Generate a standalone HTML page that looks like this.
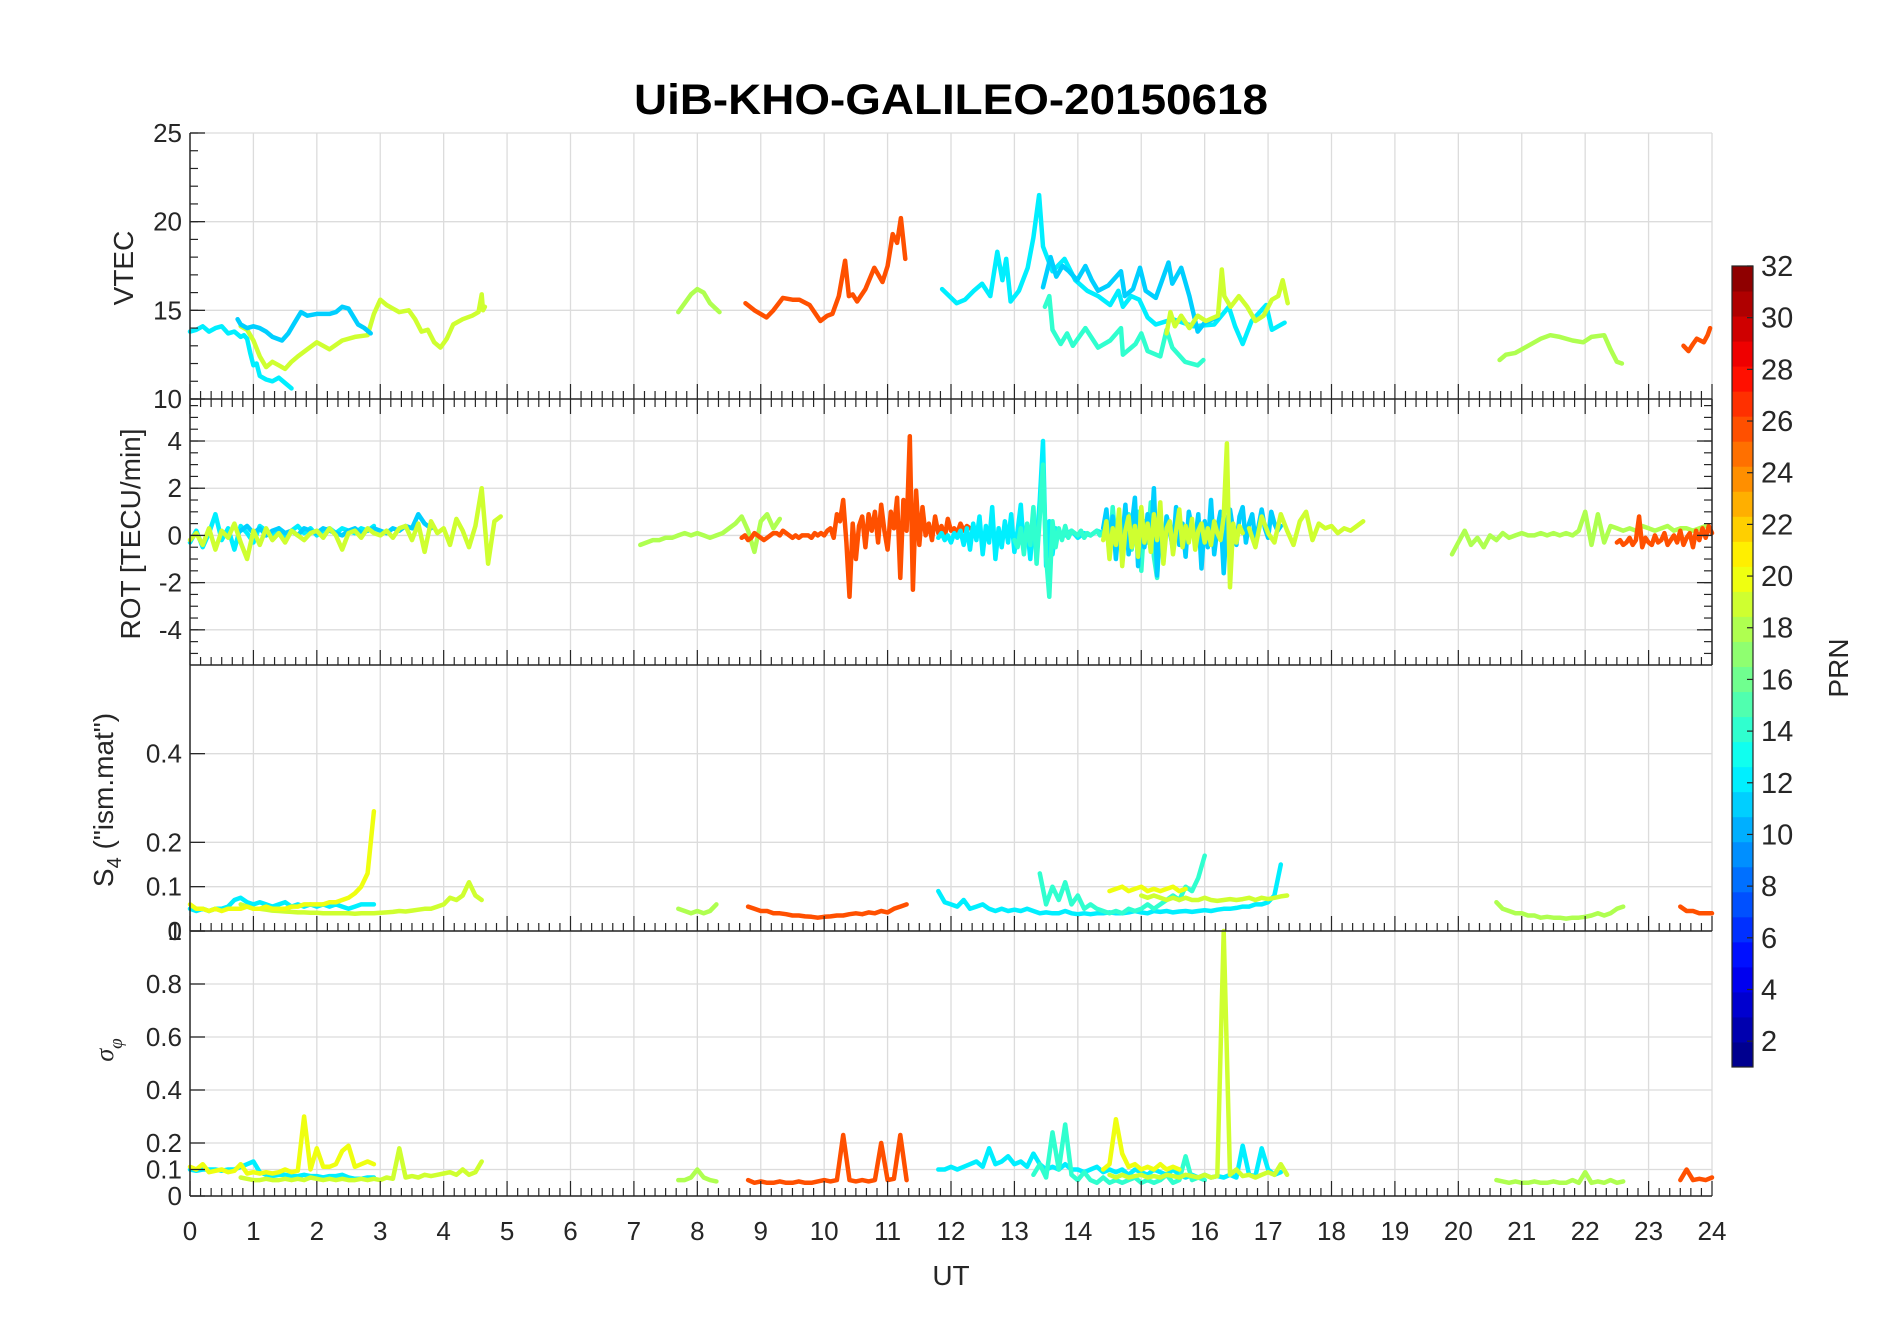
<!DOCTYPE html>
<html><head><meta charset="utf-8">
<style>
html,body{margin:0;padding:0;background:#fff;}
svg{display:block;font-family:"Liberation Sans",Arial,sans-serif;}
</style></head>
<body>
<svg id="chart" width="1902" height="1330" viewBox="0 0 1902 1330" xmlns="http://www.w3.org/2000/svg">
<rect x="0" y="0" width="1902" height="1330" fill="#fff"/>
<text x="951" y="114" text-anchor="middle" font-size="43" font-weight="bold" fill="#000" textLength="634" lengthAdjust="spacingAndGlyphs">UiB-KHO-GALILEO-20150618</text>
<g id="grid"></g>
<g id="series"></g>
<g id="axes"></g>
<g id="labels">
<text transform="translate(133,268) rotate(-90)" text-anchor="middle" font-size="28" fill="#262626">VTEC</text>
<text transform="translate(140,534) rotate(-90)" text-anchor="middle" font-size="28" fill="#262626">ROT [TECU/min]</text>
<text transform="translate(113,800) rotate(-90)" text-anchor="middle" font-size="28" fill="#262626">S<tspan font-size="20" dy="8">4</tspan><tspan dy="-8"> ("ism.mat")</tspan></text>
<text transform="translate(113,1050) rotate(-90)" text-anchor="middle" font-size="26" font-style="italic" fill="#262626" font-family="Liberation Serif, serif">σ<tspan font-size="19" dy="9">φ</tspan></text>
<text x="951" y="1285" text-anchor="middle" font-size="28" fill="#262626">UT</text>
<text transform="translate(1848,668) rotate(-90)" text-anchor="middle" font-size="28" fill="#262626">PRN</text>
</g>
<g id="colorbar"></g>
</svg>
<script>
// ---------------- DATA ----------------
const hourTicks = [0,1,2,3,4,5,6,7,8,9,10,11,12,13,14,15,16,17,18,19,20,21,22,23,24];
const vtecTicks = [10,15,20,25];
const rotTicks = [-4,-2,0,2,4];
const s4Ticks = [0,0.1,0.2,0.4];
const sigmaTicks = [0,0.1,0.2,0.4,0.6,0.8,1];
const prnTicks = [2,4,6,8,10,12,14,16,18,20,22,24,26,28,30,32];

const vtecP12aT = [0,0.1,0.2,0.3,0.4,0.5,0.6,0.7,0.8,0.85,0.9,0.95,1.0,1.05,1.1,1.2,1.3,1.4,1.5,1.6];
const vtecP12aV = [13.8,13.9,14.1,13.8,14.0,14.1,13.7,13.8,13.5,13.6,13.4,12.6,11.9,12.0,11.3,11.1,11.0,11.2,10.9,10.6];
const vtecP11aT = [0.75,0.8,0.9,1.0,1.1,1.2,1.3,1.45,1.55,1.65,1.75,1.85,2.0,2.1,2.2,2.3,2.4,2.5,2.6,2.65,2.75,2.85];
const vtecP11aV = [14.5,14.2,14.0,14.1,14.0,13.8,13.5,13.3,13.7,14.3,14.9,14.7,14.8,14.8,14.8,14.9,15.2,15.1,14.5,14.2,14.0,13.7];
const vtecP19aT = [0.8,0.9,1.0,1.1,1.2,1.3,1.4,1.5,1.6,1.7,1.85,2.0,2.1,2.2,2.4,2.6,2.8,2.9,3.0,3.1,3.2,3.3,3.45,3.55,3.65,3.75,3.85,3.95,4.05,4.15,4.3,4.45,4.55,4.6,4.62,4.65];
const vtecP19aV = [14.1,13.9,13.3,12.4,11.8,12.1,11.9,11.7,12.1,12.4,12.8,13.2,13.0,12.8,13.3,13.5,13.6,14.8,15.6,15.3,15.1,14.9,15.0,14.5,13.8,13.9,13.2,12.9,13.4,14.2,14.5,14.7,14.9,15.9,15.0,15.2];
const vtecP18aT = [7.7,7.8,7.9,8.0,8.1,8.2,8.35];
const vtecP18aV = [14.9,15.4,15.9,16.2,16.0,15.4,14.9];
const vtecP26aT = [8.76,8.9,9.09,9.2,9.35,9.5,9.61,9.77,9.94,10.05,10.13,10.23,10.33,10.39,10.45,10.52,10.65,10.79,10.92,11.0,11.08,11.15,11.21,11.28];
const vtecP26aV = [15.4,15.0,14.6,15.0,15.7,15.6,15.6,15.3,14.4,14.7,14.8,15.8,17.8,15.8,15.9,15.5,16.2,17.4,16.6,17.5,19.3,18.8,20.2,17.9];
const vtecP12bT = [11.86,12.09,12.22,12.36,12.49,12.62,12.73,12.81,12.87,12.94,13.07,13.21,13.3,13.39,13.45,13.6,13.79,13.96,14.15,14.32,14.51,14.64,14.71,14.84,14.97,15.1,15.23,15.5,15.82,16.15,16.38,16.48,16.6,16.74,16.97,17.06,17.26];
const vtecP12bV = [16.2,15.4,15.6,16.1,16.5,15.8,18.3,16.7,17.9,15.5,16.1,17.4,19.1,21.5,18.6,17.2,17.9,16.7,16.1,15.8,15.3,16.1,15.2,15.8,15.6,14.6,14.2,14.5,14.1,14.2,15.2,14.1,13.1,14.4,15.3,13.9,14.3];
const vtecP11bT = [13.45,13.57,13.66,13.76,13.86,13.99,14.12,14.22,14.32,14.48,14.68,14.74,14.87,14.98,15.07,15.23,15.43,15.49,15.63,15.76,15.89,16.0,16.2];
const vtecP11bV = [16.3,18.0,16.9,17.5,17.2,16.7,17.5,16.7,16.1,16.4,17.2,15.8,16.2,17.4,16.1,15.7,17.7,16.5,17.4,15.8,13.8,14.3,14.6];
const vtecP14aT = [13.48,13.55,13.6,13.73,13.83,13.92,14.12,14.32,14.51,14.68,14.71,14.91,15.0,15.1,15.3,15.4,15.49,15.69,15.89,15.98];
const vtecP14aV = [15.2,15.8,13.9,13.1,13.7,13.0,14.0,12.9,13.3,14.0,12.5,13.1,13.7,12.7,12.4,13.9,12.9,12.1,11.9,12.2];
const vtecP19bT = [15.4,15.46,15.53,15.63,15.76,15.89,16.02,16.21,16.27,16.31,16.41,16.54,16.67,16.8,16.93,17.06,17.16,17.23,17.31];
const vtecP19bV = [13.7,14.9,14.1,14.7,14.0,14.7,14.4,14.7,17.3,15.8,15.2,15.8,15.2,14.4,14.7,15.6,15.8,16.7,15.4];
const vtecP18bT = [20.65,20.75,20.9,21.1,21.3,21.45,21.6,21.8,21.97,22.1,22.3,22.4,22.5,22.58];
const vtecP18bV = [12.2,12.5,12.6,13.0,13.4,13.6,13.5,13.3,13.2,13.5,13.6,12.8,12.1,12.0];
const vtecP26bT = [23.55,23.63,23.7,23.76,23.87,23.93,23.97];
const vtecP26bV = [13.0,12.7,13.1,13.4,13.2,13.6,14.0];

const rotP12a = [-0.3,0.2,-0.5,0.1,0.9,-0.2,0.3,-0.6,0.4,0.1,-0.3,0.4,0.2,0.0,0.3,-0.1,0.2,0.4,0.1,0.3,0.0,0.2,0.3,0.1,0.3,0.2,0.1,0.3,0.2,0.4];
const rotP19a = [-0.2,0.1,-0.4,0.3,-0.6,0.2,-0.1,0.5,-0.3,-1.0,0.2,-0.4,0.3,-0.2,0.1,-0.3,0.2,0.0,-0.2,0.1,0.2,-0.1,0.3,0.0,-0.6,0.1,0.2,-0.1,0.3,0.1,0.0,0.2,-0.1,0.3,0.4,-0.2,0.5,-0.7,0.6,0.1,0.3,-0.4,0.7,0.2,-0.5,0.4,2.0,-1.2,0.6,0.8];
const rotP11a = [0.2,0.4,0.1,0.3,0.0,0.2,0.3,0.1,0.2,0.0,0.3,0.2,0.1,0.3,0.2,0.1,0.0,0.2,0.3,0.1,0.2,0.3,0.2,0.1,0.3,0.2,0.4,0.3,0.9,0.5,0.3];
const rotP18a = [-0.4,-0.3,-0.2,-0.2,-0.1,-0.1,0.0,0.1,0.0,0.1,0.0,-0.1,0.0,0.1,0.3,0.5,0.8,0.2,-0.7,0.6,0.9,0.3,0.7];
const rotP26a = [-0.1,0.0,-0.2,-0.1,0.1,0.0,-0.1,-0.2,-0.1,0.0,0.1,0.1,0.0,0.2,0.1,0.0,-0.1,0.0,-0.1,0.0,0.0,0.0,-0.1,0.1,0.0,0.1,0.0,0.2,0.3,-0.1,0.9,
  0.6,1.5,-0.3,-2.6,0.5,-1.0,
  0.4,0.8,-0.5,0.9,0.2,1.0,-0.3,1.3,0.2,-0.6,1.0,0.3,1.6,
  -1.8,1.5,0.2,4.2,-2.3,1.9,-0.4,1.2,
  0.0,0.5,-0.2,0.8,0.1,0.4,-0.1,0.7,0.2,0.3,0.1,0.5,0.2,0.4,0.3];
const rotP12b = [-0.1,0.1,-0.2,0.0,-0.3,0.1,-0.1,0.2,-0.4,0.3,-0.6,0.5,-0.2,0.8,-0.8,0.4,-0.3,1.2,-1.0,0.3,-0.5,0.6,-0.3,0.9,-0.7,0.2,1.3,-0.6,0.4,-1.0,0.7,-0.4,1.5,4.0,-1.3,0.6,-0.8,0.3,0.1];
const rotP12c = [0.1,0.0,0.2,-0.1,0.1,0.0,0.2,0.1,0.0];
const rotP14a = [-0.2,-0.5,0.3,-0.8,0.5,-0.4,1.2,-1.2,0.8,3.0,-0.9,-2.6,0.6,-0.5,0.3,-0.2,0.4,-0.1,0.2,0.1,0.0,0.2,-0.1,0.1,0.0,0.1,0.2,0.0,0.1,0.5,-0.8,1.2,-0.4,0.7,-1.0,0.3,0.9,-0.6,0.4,1.0,-1.5,0.6,-0.3,1.4,-0.9,-1.8,0.5,-0.7,0.8,0.3,-0.4,0.2,0.4];
const rotP11b = [0.3,1.1,-0.4,0.8,-1.0,0.6,-0.2,1.3,-0.8,0.4,1.6,-1.3,0.7,-0.5,0.9,-0.3,2.0,-1.7,0.6,-1.1,0.8,0.2,-0.6,1.2,-0.4,0.5,-0.9,1.0,0.3,-0.2,0.9,-1.4,0.6,-0.5,1.5,-0.8,0.3,1.0,-1.6,0.6,1.1,0.2,-0.4,0.8,1.2,-0.3,0.5,0.9,-0.2,0.4,1.1,0.3,-0.1,1.0,0.5,0.2,0.4];
const rotP19b = [-0.2,0.6,-1.0,0.3,-0.4,1.1,-1.3,0.2,0.8,-0.5,0.4,-0.9,1.2,-0.3,0.5,-0.7,0.9,-0.2,1.4,-1.2,0.3,0.6,-0.8,0.2,1.1,-0.5,0.4,-0.3,0.7,-0.6,0.2,0.5,-0.3,0.3,-0.4,0.6,0.1,-0.2,0.8,3.9,-2.2,0.5,-0.3,0.4,0.1];
const rotP19c = [0.3,-0.5,0.8,0.1,-0.3,0.9,0.2,-0.4,0.6,1.0,-0.2,0.5,0.3,0.4,0.1,0.3,0.2,0.4,0.6];
const rotP18b = [-0.8,-0.3,0.2,-0.4,-0.1,-0.5,0.0,-0.2,0.1,-0.1,0.0,0.1,0.0,0.0,0.1,0.0,0.1,0.0,0.1,0.0,0.2,1.0,-0.4,0.9,-0.3,0.4,0.3,0.2,0.3,0.2,0.4,0.3,0.2,0.3,0.4,0.2,0.3,0.3,0.2,0.3,0.4];
const rotP26b = [-0.3,-0.2,-0.4,-0.3,-0.1,-0.4,-0.2,0.8,-0.5,-0.1,-0.3,-0.4,0.0,-0.3,-0.2,0.1,-0.4,-0.2,0.0,-0.3,0.2,-0.4,-0.1,0.1,-0.5,0.2,-0.2,0.3,-0.1,0.4,0.1];

const s4P12a = [0.05,0.045,0.05,0.045,0.05,0.05,0.055,0.07,0.075,0.065,0.06,0.065,0.06,0.055,0.06,0.065,0.055,0.06,0.055,0.06,0.055,0.06,0.055,0.06,0.055,0.05,0.055,0.06,0.06,0.06];
const s4P20a = [0.06,0.05,0.05,0.045,0.05,0.045,0.05,0.05,0.05,0.055,0.05,0.05,0.055,0.05,0.05,0.05,0.055,0.055,0.06,0.06,0.06,0.06,0.065,0.065,0.07,0.075,0.085,0.1,0.13,0.27];
const s4P19a = [0.06,0.055,0.05,0.05,0.048,0.046,0.045,0.044,0.043,0.042,0.042,0.041,0.041,0.04,0.04,0.04,0.04,0.04,0.039,0.04,0.04,0.04,0.041,0.042,0.043,0.045,0.044,0.046,0.048,0.05,0.05,0.055,0.06,0.075,0.07,0.08,0.11,0.08,0.07];
const s4P18a = [0.05,0.045,0.04,0.045,0.04,0.045,0.06];
const s4P26a = [0.055,0.05,0.045,0.045,0.04,0.04,0.038,0.035,0.035,0.033,0.032,0.03,0.032,0.033,0.035,0.035,0.038,0.04,0.038,0.042,0.04,0.045,0.042,0.05,0.055,0.06];
const s4P12b = [0.09,0.065,0.06,0.055,0.07,0.05,0.055,0.06,0.05,0.045,0.05,0.045,0.048,0.045,0.05,0.045,0.04,0.042,0.04,0.04,0.045,0.04,0.038,0.04,0.038,0.04,0.04,0.042,0.04,0.04,0.042,0.045,0.042,0.04,0.045,0.043,0.045,0.042,0.044,0.045,0.043,0.045,0.047,0.045,0.048,0.05,0.05,0.052,0.055,0.055,0.06,0.06,0.065,0.08,0.15];
const s4P14a = [0.13,0.06,0.1,0.07,0.11,0.06,0.08,0.05,0.06,0.05,0.045,0.04,0.045,0.04,0.05,0.045,0.05,0.06,0.05,0.06,0.07,0.08,0.07,0.1,0.09,0.12,0.17];
const s4P20b = [0.09,0.095,0.1,0.09,0.095,0.1,0.09,0.095,0.09,0.095,0.1,0.09,0.095];
const s4P19b = [0.08,0.075,0.08,0.075,0.07,0.075,0.07,0.075,0.07,0.07,0.075,0.07,0.068,0.07,0.072,0.07,0.072,0.075,0.07,0.075,0.072,0.075,0.078,0.08];
const s4P18b = [0.065,0.05,0.045,0.04,0.04,0.035,0.035,0.03,0.032,0.03,0.03,0.028,0.03,0.03,0.032,0.035,0.04,0.035,0.04,0.05,0.055];
const s4P26b = [0.055,0.045,0.045,0.04,0.04,0.04];

const sgP12a = [0.1,0.095,0.1,0.1,0.1,0.095,0.1,0.1,0.11,0.12,0.13,0.09,0.08,0.075,0.08,0.08,0.075,0.075,0.08,0.075,0.075,0.07,0.075,0.075,0.08,0.07,0.065,0.065,0.07,0.07];
const sgP20a = [0.11,0.1,0.12,0.09,0.095,0.1,0.09,0.095,0.12,0.085,0.09,0.085,0.09,0.085,0.09,0.1,0.09,0.095,0.3,0.1,0.18,0.11,0.11,0.12,0.17,0.19,0.11,0.12,0.13,0.12];
const sgP19a = [0.07,0.065,0.06,0.06,0.065,0.06,0.06,0.065,0.06,0.065,0.06,0.07,0.065,0.06,0.065,0.06,0.065,0.06,0.06,0.065,0.06,0.065,0.06,0.07,0.065,0.18,0.07,0.075,0.07,0.08,0.075,0.08,0.085,0.09,0.08,0.1,0.08,0.09,0.13];
const sgP18a = [0.06,0.06,0.07,0.1,0.07,0.06,0.055];
const sgP26a = [0.06,0.05,0.055,0.05,0.05,0.055,0.05,0.05,0.055,0.05,0.05,0.055,0.06,0.055,0.06,0.23,0.06,0.055,0.06,0.055,0.06,0.2,0.06,0.065,0.23,0.06];
const sgP12b = [0.1,0.1,0.11,0.1,0.11,0.12,0.13,0.11,0.18,0.12,0.13,0.15,0.12,0.13,0.11,0.16,0.12,0.1,0.11,0.1,0.12,0.1,0.1,0.09,0.1,0.11,0.09,0.1,0.09,0.1,0.08,0.1,0.09,0.08,0.1,0.09,0.08,0.1,0.08,0.07,0.08,0.07,0.08,0.07,0.075,0.07,0.08,0.07,0.19,0.08,0.075,0.18,0.1,0.08,0.09];
const sgP14a = [0.08,0.12,0.07,0.24,0.1,0.27,0.08,0.06,0.09,0.06,0.05,0.07,0.05,0.06,0.05,0.06,0.07,0.05,0.06,0.05,0.06,0.08,0.05,0.06,0.15,0.06,0.07,0.06];
const sgP20b = [0.1,0.12,0.29,0.16,0.11,0.12,0.1,0.11,0.1,0.12,0.1,0.11,0.1];
const sgP19b = [0.08,0.07,0.08,0.07,0.075,0.08,0.07,0.075,0.07,0.08,0.075,0.07,0.08,0.075,0.07,0.08,0.07,0.075,1.0,0.08,0.1,0.075,0.08,0.07,0.08,0.09,0.08,0.12,0.08];
const sgP18b = [0.06,0.055,0.05,0.055,0.05,0.05,0.055,0.05,0.05,0.055,0.05,0.05,0.06,0.05,0.09,0.05,0.055,0.05,0.06,0.05,0.055];
const sgP26b = [0.06,0.1,0.06,0.065,0.06,0.07];

// ---------------- AXES ----------------
const NS = 'http://www.w3.org/2000/svg';
const X0 = 190, X1 = 1712;
function xs(h){ return X0 + (X1 - X0) * h / 24; }
const panels = {
  vtec: {top:133, bottom:399, min:10, max:25},
  rot: {top:399, bottom:665, min:-5.49, max:5.78},
  s4: {top:665, bottom:931, min:0, max:0.6},
  sigma: {top:931, bottom:1196, min:0, max:1}
};
function ys(p, v){ const P = panels[p]; return P.bottom - (v - P.min) / (P.max - P.min) * (P.bottom - P.top); }
function jet(prn){
  let i = Math.floor((prn - 1) / 31 * 32); if (i > 31) i = 31; if (i < 0) i = 0;
  const v = (i + 0.5) / 32;
  const c = x => Math.round(255 * Math.max(0, Math.min(1, x)));
  return 'rgb(' + c(1.5 - Math.abs(4*v - 3)) + ',' + c(1.5 - Math.abs(4*v - 2)) + ',' + c(1.5 - Math.abs(4*v - 1)) + ')';
}
function mk(tag, attrs, parent){
  const el = document.createElementNS(NS, tag);
  for (const k in attrs) el.setAttribute(k, attrs[k]);
  parent.appendChild(el); return el;
}
const gGrid = document.getElementById('grid');
const gSeries = document.getElementById('series');
const gAxes = document.getElementById('axes');
const gCb = document.getElementById('colorbar');
const AX = '#262626';

const yTickSets = {vtec: vtecTicks, rot: rotTicks, s4: s4Ticks, sigma: sigmaTicks};
const yMinor = {vtec: 1, rot: 0.5, s4: 0, sigma: 0};
for (const p in panels){
  const P = panels[p];
  hourTicks.forEach(h => {
    if (h === 0) return;
    const gl = mk('line', {x1: xs(h), x2: xs(h), y1: P.top, y2: P.bottom, stroke: '#dcdcdc', 'stroke-width': 1.3}, gGrid);
    
    
  });
  yTickSets[p].forEach(v => {
    const y = ys(p, v);
    const gl = mk('line', {x1: X0, x2: X1, y1: y, y2: y, stroke: '#dcdcdc', 'stroke-width': 1.3}, gGrid);
    
    
    mk('line', {x1: X0, x2: X0 + 15, y1: y, y2: y, stroke: AX, 'stroke-width': 1.3}, gAxes);
    if (p === 'rot') mk('line', {x1: X1 - 15, x2: X1, y1: y, y2: y, stroke: AX, 'stroke-width': 1.3}, gAxes);
    const t = mk('text', {x: X0 - 8, y: y + 9, 'text-anchor': 'end', 'font-size': 26, fill: AX}, gAxes);
    t.textContent = String(v);
    
    
  });
  if (yMinor[p]){
    for (let v = Math.ceil(P.min / yMinor[p]) * yMinor[p]; v <= P.max; v += yMinor[p]){
      const y = ys(p, v);
      mk('line', {x1: X0, x2: X0 + 8, y1: y, y2: y, stroke: AX, 'stroke-width': 1.2}, gAxes);
      if (p === 'rot') mk('line', {x1: X1 - 8, x2: X1, y1: y, y2: y, stroke: AX, 'stroke-width': 1.2}, gAxes);
    }
  }
  const la = mk('line', {x1: X0, x2: X0, y1: P.top, y2: P.bottom, stroke: AX, 'stroke-width': 1.5}, gAxes);
  
  
  if (p === 'rot') mk('line', {x1: X1, x2: X1, y1: P.top, y2: P.bottom, stroke: AX, 'stroke-width': 1.5}, gAxes);
  const ba = mk('line', {x1: X0, x2: X1, y1: P.bottom, y2: P.bottom, stroke: AX, 'stroke-width': 1.5}, gAxes);
  
  
  for (let k = 0; k <= 144; k++){
    const x = xs(k / 6), len = (k % 6 === 0) ? 15 : 8;
    mk('line', {x1: x, x2: x, y1: P.bottom, y2: P.bottom - len, stroke: AX, 'stroke-width': 1.2}, gAxes);
    if (p === 'rot') mk('line', {x1: x, x2: x, y1: P.top, y2: P.top + len, stroke: AX, 'stroke-width': 1.2}, gAxes);
  }
}
hourTicks.forEach(h => {
  const t = mk('text', {x: xs(h), y: 1240, 'text-anchor': 'middle', 'font-size': 26, fill: AX}, gAxes);
  t.textContent = String(h);
  
  
});

// ---------------- SERIES ----------------
function drawT(panel, prn, ts, vs, name){
  let d = '';
  ts.forEach((t, i) => { d += (i ? 'L' : 'M') + xs(t).toFixed(1) + ',' + ys(panel, vs[i]).toFixed(1); });
  const el = mk('path', {d: d, fill: 'none', stroke: jet(prn), 'stroke-width': 4.5, 'stroke-linejoin': 'round', 'stroke-linecap': 'round'}, gSeries);
  
  
}
function drawR(panel, prn, t0, dt, vs, name){
  drawT(panel, prn, vs.map((v, i) => t0 + i * dt), vs, name);
}
drawT('vtec', 19, vtecP19aT, vtecP19aV, 'vtec-prn19-pass1');
drawT('vtec', 12, vtecP12aT, vtecP12aV, 'vtec-prn12-pass1');
drawT('vtec', 11, vtecP11aT, vtecP11aV, 'vtec-prn11-pass1');
drawT('vtec', 18, vtecP18aT, vtecP18aV, 'vtec-prn18-pass1');
drawT('vtec', 26, vtecP26aT, vtecP26aV, 'vtec-prn26-pass1');
drawT('vtec', 14, vtecP14aT, vtecP14aV, 'vtec-prn14-pass1');
drawT('vtec', 12, vtecP12bT, vtecP12bV, 'vtec-prn12-pass2');
drawT('vtec', 11, vtecP11bT, vtecP11bV, 'vtec-prn11-pass2');
drawT('vtec', 19, vtecP19bT, vtecP19bV, 'vtec-prn19-pass2');
drawT('vtec', 18, vtecP18bT, vtecP18bV, 'vtec-prn18-pass2');
drawT('vtec', 26, vtecP26bT, vtecP26bV, 'vtec-prn26-pass2');

drawR('rot', 12, 0, 0.1, rotP12a, 'rot-prn12-pass1');
drawR('rot', 11, 0.8, 0.1, rotP11a, 'rot-prn11-pass1');
drawR('rot', 19, 0, 0.1, rotP19a, 'rot-prn19-pass1');
drawR('rot', 18, 7.1, 0.1, rotP18a, 'rot-prn18-pass1');
drawR('rot', 26, 8.7, 0.05, rotP26a, 'rot-prn26-pass1');
drawR('rot', 12, 11.8, 0.05, rotP12b, 'rot-prn12-pass2');
drawR('rot', 12, 13.7, 0.1, rotP12c, 'rot-prn12-pass3');
drawR('rot', 14, 13.0, 0.05, rotP14a, 'rot-prn14-pass1');
drawR('rot', 11, 14.4, 0.05, rotP11b, 'rot-prn11-pass2');
drawR('rot', 19, 14.4, 0.05, rotP19b, 'rot-prn19-pass2');
drawR('rot', 19, 16.7, 0.1, rotP19c, 'rot-prn19-pass3');
drawR('rot', 18, 19.9, 0.1, rotP18b, 'rot-prn18-pass2');
drawR('rot', 26, 22.5, 0.05, rotP26b, 'rot-prn26-pass2');

drawR('s4', 12, 0, 0.1, s4P12a, 's4-prn12-pass1');
drawR('s4', 19, 0.8, 0.1, s4P19a, 's4-prn19-pass1');
drawR('s4', 20, 0, 0.1, s4P20a, 's4-prn20-pass1');
drawR('s4', 18, 7.7, 0.1, s4P18a, 's4-prn18-pass1');
drawR('s4', 26, 8.8, 0.1, s4P26a, 's4-prn26-pass1');
drawR('s4', 12, 11.8, 0.1, s4P12b, 's4-prn12-pass2');
drawR('s4', 14, 13.4, 0.1, s4P14a, 's4-prn14-pass1');
drawR('s4', 20, 14.5, 0.1, s4P20b, 's4-prn20-pass2');
drawR('s4', 19, 15.0, 0.1, s4P19b, 's4-prn19-pass2');
drawR('s4', 18, 20.6, 0.1, s4P18b, 's4-prn18-pass2');
drawR('s4', 26, 23.5, 0.1, s4P26b, 's4-prn26-pass2');

drawR('sigma', 12, 0, 0.1, sgP12a, 'sigma-prn12-pass1');
drawR('sigma', 19, 0.8, 0.1, sgP19a, 'sigma-prn19-pass1');
drawR('sigma', 20, 0, 0.1, sgP20a, 'sigma-prn20-pass1');
drawR('sigma', 18, 7.7, 0.1, sgP18a, 'sigma-prn18-pass1');
drawR('sigma', 26, 8.8, 0.1, sgP26a, 'sigma-prn26-pass1');
drawR('sigma', 12, 11.8, 0.1, sgP12b, 'sigma-prn12-pass2');
drawR('sigma', 14, 13.3, 0.1, sgP14a, 'sigma-prn14-pass1');
drawR('sigma', 20, 14.4, 0.1, sgP20b, 'sigma-prn20-pass2');
drawR('sigma', 19, 14.5, 0.1, sgP19b, 'sigma-prn19-pass2');
drawR('sigma', 18, 20.6, 0.1, sgP18b, 'sigma-prn18-pass2');
drawR('sigma', 26, 23.5, 0.1, sgP26b, 'sigma-prn26-pass2');

// ---------------- COLORBAR ----------------
const CB = {x: 1732, w: 21, top: 266, bottom: 1067, min: 1, max: 32};
function cby(v){ return CB.bottom - (v - CB.min) / (CB.max - CB.min) * (CB.bottom - CB.top); }
for (let i = 0; i < 32; i++){
  const v0 = CB.min + i * (CB.max - CB.min) / 32, v1 = CB.min + (i + 1) * (CB.max - CB.min) / 32;
  const prn = 1 + (i + 0.5) * 31 / 32;
  const r = mk('rect', {x: CB.x, y: cby(v1), width: CB.w, height: cby(v0) - cby(v1) + 0.5, fill: jet(prn)}, gCb);
  
  
}
const cbBox = mk('rect', {x: CB.x, y: CB.top, width: CB.w, height: CB.bottom - CB.top, fill: 'none', stroke: AX, 'stroke-width': 1.2}, gCb);


prnTicks.forEach(v => {
  const y = cby(v);
  mk('line', {x1: CB.x + CB.w - 6, x2: CB.x + CB.w, y1: y, y2: y, stroke: AX, 'stroke-width': 1.2}, gCb);
  const t = mk('text', {x: CB.x + CB.w + 8, y: y + 10, 'font-size': 29, fill: AX}, gCb);
  t.textContent = String(v);
  
  
});
</script>
</body></html>
